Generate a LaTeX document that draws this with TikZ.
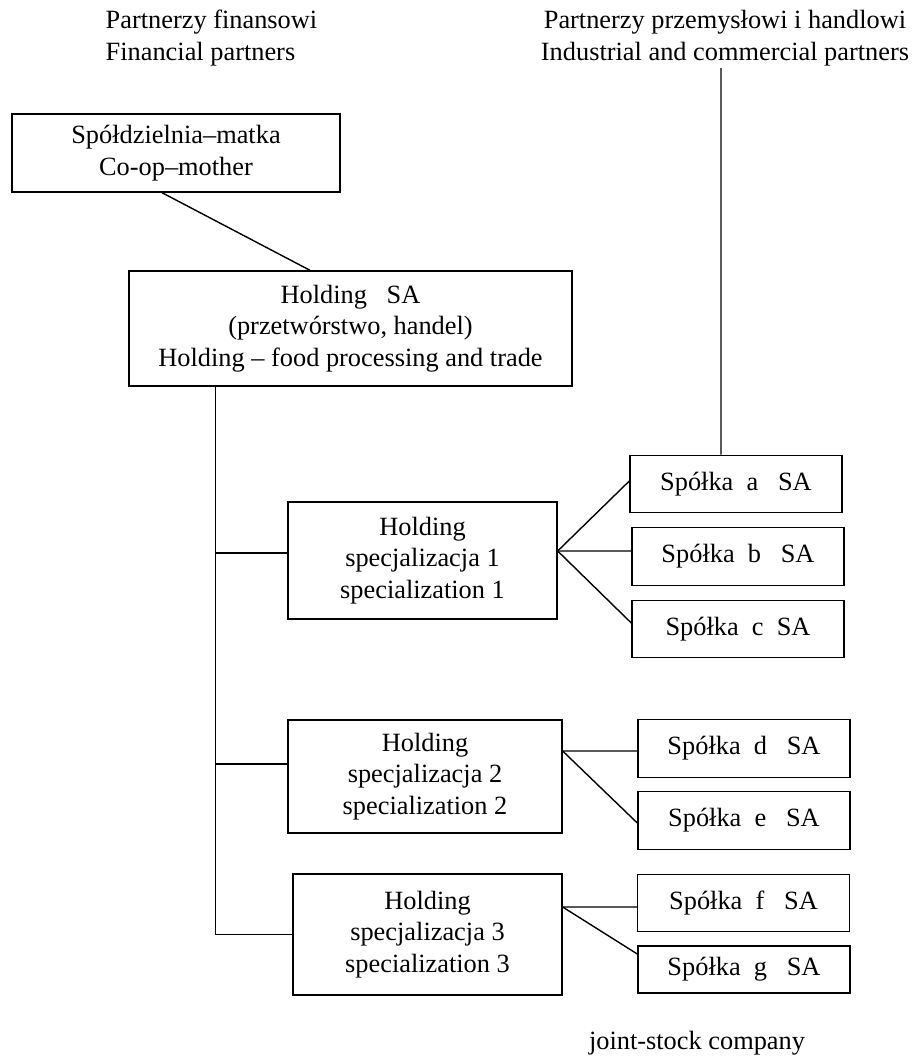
\documentclass[tikz,border=0pt]{standalone}
\usepackage{fontspec}
\setmainfont{Liberation Serif}
\tikzset{
  box/.style={draw, line width=0.8pt, align=center, inner sep=0pt},
  spolka/.style={box, minimum width=4.24cm, minimum height=1.15cm},
  lbl/.style={align=center, inner sep=0pt},
}
\begin{document}
\begin{tikzpicture}[x=0.02cm, y=-0.02cm, line width=0.8pt, font=\fontsize{15}{18}\selectfont]
\useasboundingbox (0,0) rectangle (916,1059);
\node[lbl, align=left, anchor=west] (fin) at (105,38) {Partnerzy finansowi\\Financial partners};
\node[lbl] (ind) at (725,38) {Partnerzy przemysłowi i handlowi\\Industrial and commercial partners};
\node[box, minimum width=6.56cm, minimum height=1.56cm] (coop) at (176,153) {Spółdzielnia--matka\\Co-op--mother};
\node[box, minimum width=8.86cm, minimum height=2.30cm] (hold) at (350.5,328.5) {Holding\ \ \ SA\\(przetwórstwo, handel)\\Holding -- food processing and trade};
\node[box, minimum width=5.38cm, minimum height=2.34cm] (hs1) at (422.5,560.5) {Holding\\specjalizacja 1\\specialization 1};
\node[box, minimum width=5.48cm, minimum height=2.26cm] (hs2) at (425,776.5) {Holding\\specjalizacja 2\\specialization 2};
\node[box, minimum width=5.38cm, minimum height=2.42cm] (hs3) at (427.5,934.5) {Holding\\specjalizacja 3\\specialization 3};
\node[spolka] (sa) at (736,484) {Spółka\ \ a\ \ \ SA};
\node[spolka] (sb) at (738,556.5) {Spółka\ \ b\ \ \ SA};
\node[spolka] (sc) at (738,629) {Spółka\ \ c\ \ SA};
\node[spolka] (sd) at (744,748.5) {Spółka\ \ d\ \ \ SA};
\node[spolka] (se) at (744,820.5) {Spółka\ \ e\ \ \ SA};
\node[spolka] (sf) at (743.5,903) {Spółka\ \ f\ \ \ SA};
\node[spolka, minimum height=0.94cm] (sg) at (744,969.5) {Spółka\ \ g\ \ \ SA};
\node[lbl] (jsc) at (697,1043) {joint-stock company};
% connectors
\coordinate (indfoot) at (721,68);
\draw (indfoot) -- ([xshift=-0.3cm]sa.north);
\draw ([xshift=-0.28cm]coop.south) -- ([xshift=-0.81cm]hold.north);
\coordinate (trunk) at ([xshift=1.74cm]hold.south west);
\draw (trunk) |- (hs3.west);
\draw ([yshift=0.15cm]hs1.west) -- ([yshift=0.15cm]hs1.west -| trunk);
\draw ([yshift=0.25cm]hs2.west) -- ([yshift=0.25cm]hs2.west -| trunk);
\coordinate (hub1) at ([yshift=0.19cm]hs1.east);
\coordinate (hub2) at ([yshift=0.51cm]hs2.east);
\coordinate (hub3) at ([yshift=0.55cm]hs3.east);
\draw (hub1) -- ([yshift=0.06cm]sa.west);
\draw (hub1) -- ([yshift=0.11cm]sb.west);
\draw (hub1) -- ([yshift=0.12cm]sc.west);
\draw (hub2) -- ([yshift=-0.05cm]sd.west);
\draw (hub2) -- ([yshift=-0.05cm]se.west);
\draw (hub3) -- ([yshift=-0.08cm]sf.west);
\draw (hub3) -- ([yshift=0.31cm]sg.west);
\end{tikzpicture}
\end{document}
